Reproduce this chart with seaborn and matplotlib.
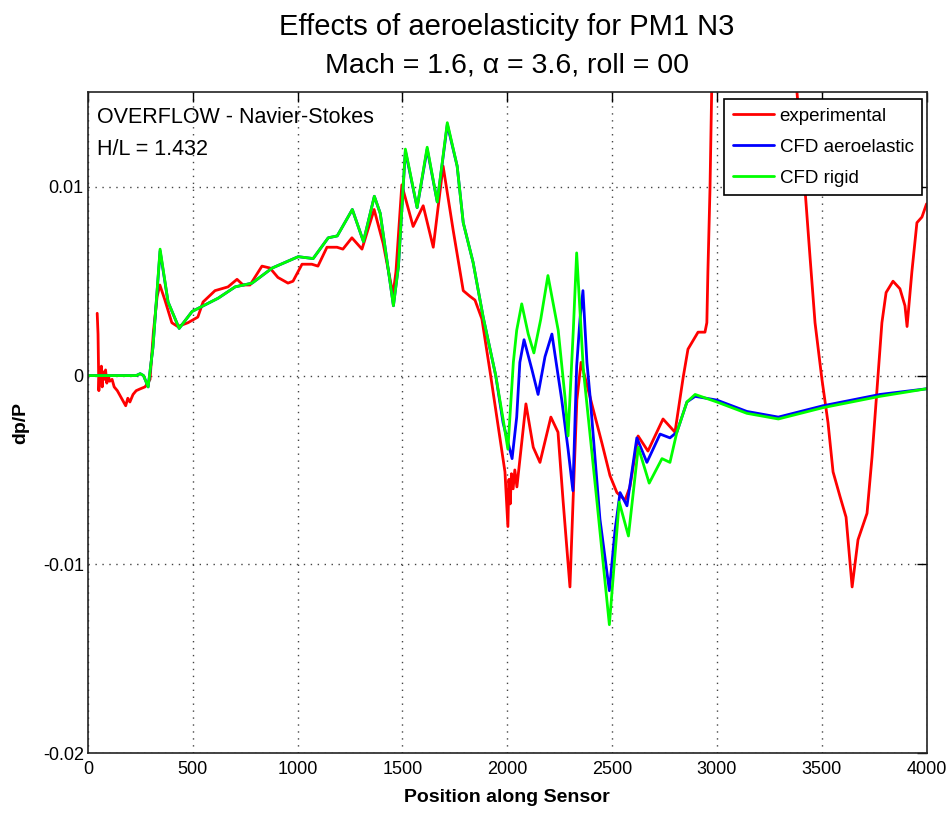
import matplotlib
matplotlib.use("Agg")
import matplotlib.pyplot as plt
import seaborn as sns

exp_x = [44, 48, 52, 56, 60, 64, 68, 72, 78, 84, 90, 96, 104, 115, 125, 140, 155, 170, 180, 190,
         200, 215, 230, 250, 272, 285, 296, 312, 330, 343, 367, 400, 428, 477, 524, 549, 606, 668,
         711, 740, 773, 830, 868, 906, 954, 978, 1021, 1068, 1097, 1140, 1188, 1216, 1259, 1307,
         1365, 1408, 1455, 1469, 1497, 1551, 1599, 1647, 1694, 1742, 1790, 1822, 1846, 1879, 1918,
         1989, 2003, 2008, 2014, 2020, 2028, 2036, 2046, 2089, 2124, 2156, 2208, 2242, 2266, 2299,
         2314, 2332, 2352, 2371, 2410, 2452, 2490, 2523, 2562, 2585, 2624, 2671, 2743, 2800, 2839,
         2862, 2910, 2943, 2952, 2957, 2967, 2978, 3180, 3375, 3382, 3420, 3444, 3468, 3501, 3530,
         3554, 3587, 3616, 3645, 3673, 3716, 3740, 3764, 3787, 3807, 3840, 3873, 3897, 3907, 3930,
         3954, 3978, 4000]
exp_y = [0.0033, 0.0022, -0.0008, 0.0004, -0.0003, 0.0005, -0.0006, 0.0002, -0.0002, 0.0003,
         -0.0004, 0.0000, -0.0003, -0.0002, -0.0006, -0.0008, -0.0011, -0.0014, -0.0016, -0.0012,
         -0.0014, -0.0010, -0.0008, -0.0007, -0.0006, -0.0004, -0.0002, 0.0023, 0.0042, 0.0048,
         0.0040, 0.0028, 0.0026, 0.0028, 0.0031, 0.0039, 0.0045, 0.0047, 0.0051, 0.0048, 0.0048,
         0.0058, 0.0057, 0.0052, 0.0049, 0.0050, 0.0059, 0.0059, 0.0058, 0.0068, 0.0068, 0.0067,
         0.0073, 0.0067, 0.0088, 0.0070, 0.0043, 0.0055, 0.0101, 0.0079, 0.0090, 0.0068, 0.0111,
         0.0077, 0.0045, 0.0042, 0.0040, 0.0030, 0.0002, -0.0051, -0.0080, -0.0055, -0.0068,
         -0.0052, -0.0060, -0.0050, -0.0059, -0.0015, -0.0038, -0.0046, -0.0022, -0.0030, -0.0066,
         -0.0112, -0.0066, -0.0013, 0.0007, -0.0001, -0.0018, -0.0036, -0.0053, -0.0062, -0.0066,
         -0.0059, -0.0032, -0.0040, -0.0023, -0.0030, -0.0001, 0.0014, 0.0023, 0.0023, 0.0028,
         0.0055, 0.0099, 0.0170, 0.0260, 0.0165, 0.0150, 0.0099, 0.0063, 0.0028, -0.0002, -0.0025,
         -0.0051, -0.0064, -0.0075, -0.0112, -0.0087, -0.0073, -0.0043, -0.0007, 0.0028, 0.0044,
         0.0050, 0.0046, 0.0037, 0.0026, 0.0055, 0.0081, 0.0084, 0.0091]

aero_x = [0, 230, 249, 265, 287, 310, 344, 382, 435, 497, 621, 702, 783, 879, 1003, 1074, 1146,
          1189, 1261, 1314, 1366, 1394, 1457, 1481, 1514, 1570, 1618, 1666, 1714, 1761, 1790,
          1837, 1885, 1945, 1980, 2023, 2045, 2060, 2080, 2118, 2147, 2180, 2213, 2260, 2290, 2313,
          2331, 2347, 2361, 2380, 2395, 2442, 2487, 2514, 2538, 2571, 2618, 2666, 2729, 2776, 2809,
          2857, 2896, 3000, 3143, 3293, 3506, 3778, 4000]
aero_y = [0.0, 0.0, 0.0001, 0.0, -0.0006, 0.0015, 0.0066, 0.0039, 0.0025, 0.0034, 0.0041, 0.0047,
          0.0049, 0.0057, 0.0063, 0.0062, 0.0073, 0.0074, 0.0088, 0.0071, 0.0095, 0.0086, 0.0037,
          0.0058, 0.0119, 0.0089, 0.0120, 0.0092, 0.0133, 0.0111, 0.0081, 0.0060, 0.0031, 0.0,
          -0.0025, -0.0044, -0.0022, 0.0007, 0.0019, 0.0003, -0.0010, 0.0010, 0.0022, -0.0013,
          -0.0039, -0.0061, 0.0005, 0.0030, 0.0045, 0.0007, -0.0011, -0.0076, -0.0114, -0.0082,
          -0.0062, -0.0069, -0.0033, -0.0046, -0.0031, -0.0033, -0.0030, -0.0014, -0.0011,
          -0.0013, -0.0019, -0.0022, -0.0016, -0.0010, -0.0007]

rigid_x = [0, 230, 249, 265, 287, 310, 344, 382, 435, 497, 621, 702, 783, 879, 1003, 1074, 1146,
           1189, 1261, 1314, 1366, 1394, 1457, 1481, 1514, 1570, 1618, 1666, 1714, 1761, 1790,
           1837, 1885, 1945, 1980, 2003, 2029, 2045, 2069, 2100, 2127, 2160, 2194, 2243, 2275,
           2290, 2315, 2331, 2363, 2428, 2487, 2534, 2578, 2625, 2677, 2738, 2776, 2809, 2857,
           2896, 3000, 3143, 3293, 3506, 3778, 4000]
rigid_y = [0.0, 0.0, 0.0001, 0.0, -0.0006, 0.0015, 0.0067, 0.0039, 0.0025, 0.0034, 0.0041, 0.0047,
           0.0049, 0.0057, 0.0063, 0.0062, 0.0073, 0.0074, 0.0088, 0.0071, 0.0095, 0.0086, 0.0037,
           0.0058, 0.0120, 0.0089, 0.0121, 0.0092, 0.0134, 0.0111, 0.0081, 0.0060, 0.0031, 0.0,
           -0.0023, -0.0039, 0.0007, 0.0024, 0.0038, 0.0022, 0.0012, 0.0030, 0.0053, 0.0024,
           -0.0011, -0.0032, 0.0024, 0.0065, 0.0003, -0.0067, -0.0132, -0.0067, -0.0085, -0.0038,
           -0.0057, -0.0044, -0.0046, -0.0030, -0.0014, -0.0010, -0.0014, -0.0020, -0.0023,
           -0.0017, -0.0011, -0.0007]

xtick_vals = [0, 500, 1000, 1500, 2000, 2500, 3000, 3500, 4000]
ytick_vals = [-0.02, -0.01, 0, 0.01]
ytick_labels = ["-0.02", "-0.01", "0", "0.01"]

sns.set_style("white")
plt.rcParams["font.family"] = ["Liberation Sans", "DejaVu Sans"]
plt.rcParams["text.color"] = "black"
plt.rcParams["axes.labelcolor"] = "black"

fig = plt.figure(figsize=(9.51, 8.17), dpi=100)
ax = fig.add_axes([0.0925, 0.0783, 0.8818, 0.8085])

sns.lineplot(x=exp_x, y=exp_y, color="#ff0000", lw=2, label="experimental",
             estimator=None, sort=False, ax=ax)
sns.lineplot(x=aero_x, y=aero_y, color="#0000ff", lw=2, label="CFD aeroelastic",
             estimator=None, sort=False, ax=ax)
sns.lineplot(x=rigid_x, y=rigid_y, color="#00ff00", lw=2, label="CFD rigid",
             estimator=None, sort=False, ax=ax)

ax.set_xlim(0, 4000)
ax.set_ylim(-0.02, 0.015)
ax.set_xticks(xtick_vals)
ax.set_xticklabels([str(v) for v in xtick_vals])
ax.set_yticks(ytick_vals)
ax.set_yticklabels(ytick_labels)
ax.tick_params(direction="in", length=7, width=1, top=True, right=True,
               labelsize=13, colors="black")
ax.tick_params(axis="y", pad=3)
ax.tick_params(axis="x", pad=6)
ax.grid(True, linestyle=(0, (1, 4)), color="#444444", lw=1)
for s in ax.spines.values():
    s.set_color("#222222")
    s.set_linewidth(1.2)

ax.set_xlabel("Position along Sensor", fontsize=14, fontweight="bold", labelpad=8)
ax.set_ylabel("dp/P", fontsize=14, fontweight="bold", labelpad=10)

fig.text(0.533, 1 - 27 / 817, "Effects of aeroelasticity for PM1 N3", ha="center", va="center", fontsize=21)
fig.text(0.533, 1 - 66 / 817, "Mach = 1.6, \u03b1 = 3.6, roll = 00", ha="center", va="center", fontsize=20.5)

ax.text(0.0107, 0.9614, "OVERFLOW - Navier-Stokes", transform=ax.transAxes, fontsize=15.5, va="center")
ax.text(0.0107, 0.913, "H/L = 1.432", transform=ax.transAxes, fontsize=15.5, va="center")

leg = ax.legend(loc="upper right", bbox_to_anchor=(0.9946, 0.990), fontsize=13.5, frameon=True,
                fancybox=False, edgecolor="black", framealpha=1, handlelength=2.2,
                borderaxespad=0, labelspacing=0.75, borderpad=0.45, handletextpad=0.3)
leg.get_frame().set_linewidth(1.2)

fig.savefig("out.png", dpi=100)
